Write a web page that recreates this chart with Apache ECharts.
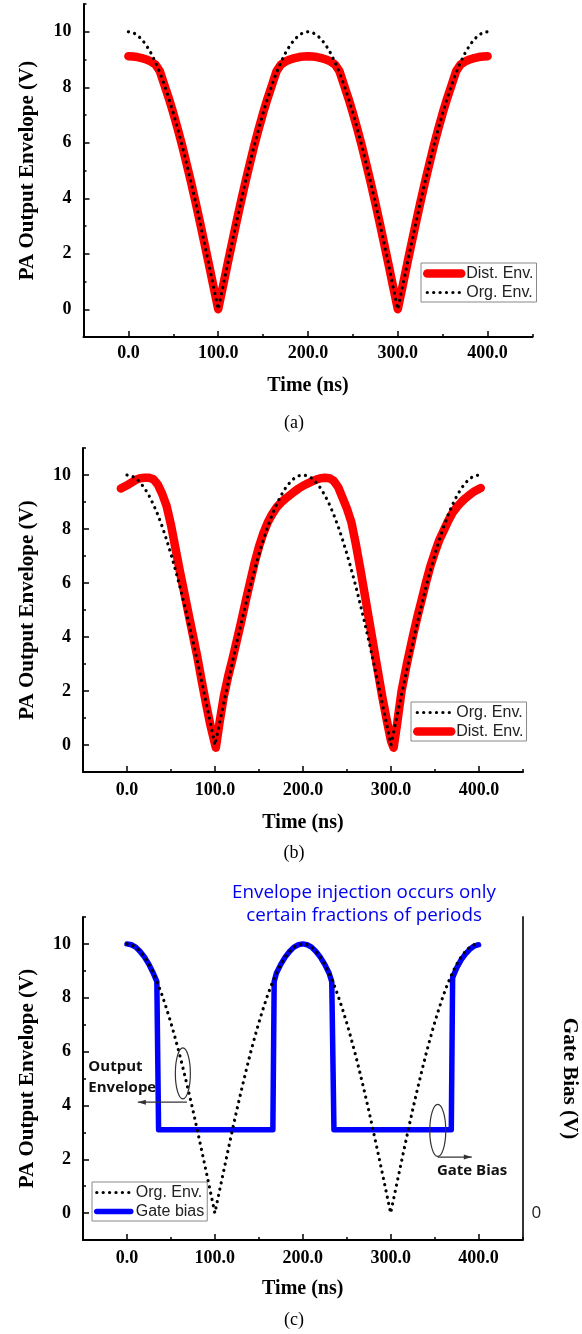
<!DOCTYPE html>
<html>
<head>
<meta charset="utf-8">
<script src="https://cdn.jsdelivr.net/npm/echarts@6/dist/echarts.min.js"></script>
<style>html,body{margin:0;padding:0;background:#fff}#c{width:582px;height:1334px}</style>
</head>
<body>
<div id="c"></div>
<script>
// ---------- data ----------
const timeNs = [0,5,10,15,20,25,30,35,40,45,50,55,60,65,70,75,80,85,90,95,100,
  105,110,115,120,125,130,135,140,145,150,155,160,165,170,175,180,185,190,195,200,
  205,210,215,220,225,230,235,240,245,250,255,260,265,270,275,280,285,290,295,300,
  305,310,315,320,325,330,335,340,345,350,355,360,365,370,375,380,385,390,395,400];
const orgEnv = [10.00,9.97,9.88,9.72,9.51,9.24,8.91,8.53,8.09,7.60,7.07,6.49,5.88,5.22,4.54,3.83,3.09,2.33,1.56,0.78,0.00,
  0.78,1.56,2.33,3.09,3.83,4.54,5.22,5.88,6.49,7.07,7.60,8.09,8.53,8.91,9.24,9.51,9.72,9.88,9.97,10.00,
  9.97,9.88,9.72,9.51,9.24,8.91,8.53,8.09,7.60,7.07,6.49,5.88,5.22,4.54,3.83,3.09,2.33,1.56,0.78,0.00,
  0.78,1.56,2.33,3.09,3.83,4.54,5.22,5.88,6.49,7.07,7.60,8.09,8.53,8.91,9.24,9.51,9.72,9.88,9.97,10.00];
const distEnvA = [9.12,9.11,9.09,9.05,9.00,8.93,8.82,8.58,8.09,
  7.60,7.07,6.49,5.88,5.22,4.54,3.83,3.09,2.33,1.56,0.78,0.00,
  0.78,1.56,2.33,3.09,3.83,4.54,5.22,5.88,6.49,7.07,7.60,8.09,
  8.58,8.82,8.93,9.00,9.05,9.09,9.11,9.12,9.11,9.09,9.05,9.00,8.93,8.82,8.58,
  8.09,7.60,7.07,6.49,5.88,5.22,4.54,3.83,3.09,2.33,1.56,0.78,0.00,
  0.78,1.56,2.33,3.09,3.83,4.54,5.22,5.88,6.49,7.07,7.60,8.09,
  8.58,8.82,8.93,9.00,9.05,9.09,9.11,9.12];
const distTimeB = [-7,0,5,10,15,20,25,30,35,40,45,50,55,60,65,70,75,80,85,90,95,101,
  105,110,115,120,125,130,135,140,145,150,155,160,165,170,175,180,185,190,195,200,
  205,210,215,220,225,230,235,240,245,250,255,260,265,270,275,280,285,290,295,300,
  303,307,312,318,325,330,335,340,345,350,355,360,365,370,375,380,385,390,395,402];
const distEnvB = [9.50,9.62,9.72,9.82,9.88,9.90,9.90,9.84,9.65,9.30,8.85,8.15,7.30,6.45,5.65,4.85,4.05,3.25,2.35,1.50,0.70,-0.10,
  0.80,1.80,2.55,3.20,3.90,4.60,5.35,6.05,6.75,7.35,7.85,8.25,8.55,8.80,8.98,9.12,9.25,9.38,9.50,9.60,
  9.68,9.76,9.83,9.88,9.90,9.88,9.78,9.55,9.15,8.75,8.25,7.45,6.55,5.60,4.65,3.70,2.75,1.80,0.95,0.15,
  -0.10,0.80,2.00,3.00,4.05,4.75,5.40,6.05,6.65,7.15,7.60,7.95,8.30,8.60,8.82,9.00,9.15,9.28,9.40,9.52];
const gateTime = [0,5,10,15,20,25,30,34,36,166,167.5,170,175,180,185,190,195,200,205,210,215,220,225,230,233,235.5,369,370.5,375,380,385,390,395,400];
const gateBias = [10.00,9.97,9.88,9.72,9.51,9.24,8.91,8.60,3.10,3.10,8.60,8.91,9.24,9.51,9.72,9.88,9.97,10.00,9.97,9.88,9.72,9.51,9.24,8.91,8.60,3.10,3.10,8.75,9.10,9.40,9.62,9.80,9.92,9.97];
const xTickValues = [0,100,200,300,400];
const yTickValues = [0,2,4,6,8,10];
const rightTickValues = [0];

// ---------- helpers ----------
const zip = (xs, ys) => xs.map((x, i) => [x, ys[i]]);
const SERIF = '"Liberation Serif", "Times New Roman", serif';
const SANS = '"Liberation Sans", Arial, sans-serif';
const OPEN = '"Open Sans", "Noto Sans", sans-serif';
const tickStyle = {color: '#000', width: 1.5};

function xAxes(g, margin, nameGap) {
  return [{
    gridIndex: g, type: 'value', min: -50, max: 450, interval: 50, position: 'bottom',
    axisLine: {show: true, onZero: false, lineStyle: {color: '#000', width: 2}},
    axisTick: {show: true, inside: true, length: 3, lineStyle: tickStyle},
    axisLabel: {margin: margin, fontFamily: SERIF, fontWeight: 'bold', fontSize: 18, color: '#000',
      formatter: v => xTickValues.indexOf(v) >= 0 ? v.toFixed(1) : ''},
    splitLine: {show: false},
    name: 'Time (ns)', nameLocation: 'middle', nameGap: nameGap,
    nameTextStyle: {fontFamily: SERIF, fontWeight: 'bold', fontSize: 20, color: '#000'}
  }, {
    gridIndex: g, type: 'value', min: -50, max: 450, position: 'bottom',
    axisLine: {show: false, onZero: false},
    axisTick: {show: true, inside: true, length: 6, customValues: xTickValues, lineStyle: tickStyle},
    axisLabel: {show: false}, splitLine: {show: false}
  }];
}
function yAxes(g) {
  return [{
    gridIndex: g, type: 'value', min: -1, max: 11, interval: 1, position: 'left',
    axisLine: {show: true, onZero: false, lineStyle: {color: '#000', width: 2}},
    axisTick: {show: true, inside: true, length: 3, lineStyle: tickStyle},
    axisLabel: {margin: 12, fontFamily: SERIF, fontWeight: 'bold', fontSize: 18, color: '#000',
      formatter: v => yTickValues.indexOf(v) >= 0 ? String(v) : ''},
    splitLine: {show: false},
    name: 'PA Output Envelope (V)', nameLocation: 'middle', nameGap: 45, nameRotate: 90,
    nameTextStyle: {fontFamily: SERIF, fontWeight: 'bold', fontSize: 21, color: '#000'}
  }, {
    gridIndex: g, type: 'value', min: -1, max: 11, position: 'left',
    axisLine: {show: false, onZero: false},
    axisTick: {show: true, inside: true, length: 6, customValues: yTickValues, lineStyle: tickStyle},
    axisLabel: {show: false}, splitLine: {show: false}
  }];
}

const dotted = {color: '#000', width: 3.2, type: [0.1, 6.3], cap: 'round', join: 'round'};
const redLine = {color: '#ff0000', width: 8.5, cap: 'round', join: 'round'};
const blueLine = {color: '#0000ff', width: 5.5, cap: 'round', join: 'round'};
const noSymbol = {color: 'rgba(0,0,0,0)', borderWidth: 0, opacity: 0};

function legend(left, top, items) {
  return {
    left: left, top: top, orient: 'vertical', itemWidth: 34, itemHeight: 12, itemGap: 2,
    padding: [2, 3, 1, 2], borderColor: '#888', borderWidth: 1, backgroundColor: '#fff',
    selectedMode: false, z: 10,
    textStyle: {fontFamily: SANS, fontSize: 16, color: '#222', lineHeight: 17},
    data: items
  };
}
const legOrg = {name: 'Org. Env.', lineStyle: dotted, itemStyle: noSymbol};
const legDist = {name: 'Dist. Env.', lineStyle: redLine, itemStyle: noSymbol};
const legGate = {name: 'Gate bias', lineStyle: blueLine, itemStyle: noSymbol};

function line(name, data, xi, yi, style, z) {
  return {type: 'line', name: name, data: data, xAxisIndex: xi, yAxisIndex: yi,
    symbol: 'none', showSymbol: false, lineStyle: style, z: z, silent: true, animation: false};
}

const xa = xAxes(0, 7, 39), xb = xAxes(1, 9, 41), xc = xAxes(2, 9, 39);
const ya = yAxes(0), yb = yAxes(1), yc = yAxes(2);
const yRight = {
  gridIndex: 2, type: 'value', min: -1, max: 11, interval: 1, position: 'right',
  axisLine: {show: true, onZero: false, lineStyle: {color: '#333', width: 2}},
  axisTick: {show: false},
  axisLabel: {margin: 9, fontFamily: OPEN, fontSize: 17, color: '#222',
    formatter: v => rightTickValues.indexOf(v) >= 0 ? String(v) : ''},
  splitLine: {show: false},
  name: 'Gate Bias (V)', nameLocation: 'middle', nameGap: 36, nameRotate: -90,
  nameTextStyle: {fontFamily: SERIF, fontWeight: 'bold', fontSize: 21, color: '#000'}
};

const chart = echarts.init(document.getElementById('c'), null, {renderer: 'canvas'});
chart.setOption({
  animation: false,
  backgroundColor: '#fff',
  grid: [
    {left: 83.5, top: 4, width: 449, height: 333, outerBoundsMode: 'none', containLabel: false},
    {left: 83, top: 448, width: 440, height: 324, outerBoundsMode: 'none', containLabel: false},
    {left: 83, top: 917, width: 439.5, height: 323, outerBoundsMode: 'none', containLabel: false}
  ],
  xAxis: [].concat(xa, xb, xc),
  yAxis: [].concat(ya, yb, yc, [yRight]),
  legend: [
    legend(421, 263, [legDist, legOrg]),
    legend(411, 702, [legOrg, legDist]),
    legend(92, 1182, [legOrg, legGate])
  ],
  series: [
    line('Dist. Env.', zip(timeNs, distEnvA), 0, 0, redLine, 2),
    line('Org. Env.', zip(timeNs, orgEnv), 0, 0, dotted, 3),
    line('Dist. Env.', zip(distTimeB, distEnvB), 2, 2, redLine, 2),
    line('Org. Env.', zip(timeNs, orgEnv), 2, 2, dotted, 3),
    line('Gate bias', zip(gateTime, gateBias), 4, 4, blueLine, 2),
    line('Org. Env.', zip(timeNs, orgEnv), 4, 4, dotted, 3)
  ]
});

// ---------- annotations ----------
const P = (t, v) => chart.convertToPixel({xAxisIndex: 4, yAxisIndex: 4}, [t, v]);
const annColor = '#333';
function arrow(from, to) {
  const a = P(from[0], from[1]), b = P(to[0], to[1]);
  const dir = Math.sign(b[0] - a[0]);
  return [
    {type: 'line', shape: {x1: a[0], y1: a[1], x2: b[0], y2: b[1]}, style: {stroke: annColor, lineWidth: 1.2}, z: 20},
    {type: 'polygon', shape: {points: [[b[0], b[1]], [b[0] - dir * 8, b[1] - 2.5], [b[0] - dir * 8, b[1] + 2.5]]},
      style: {fill: annColor}, z: 20}
  ];
}
function ellipse(t, v, rx, ry) {
  const c = P(t, v);
  return {type: 'ellipse', shape: {cx: c[0], cy: c[1], rx: rx, ry: ry},
    style: {fill: 'none', stroke: annColor, lineWidth: 1.2}, z: 20};
}
function label(t, v, text) {
  const p = P(t, v);
  return {type: 'text', z: 21, style: {x: p[0], y: p[1], text: text, align: 'left', verticalAlign: 'middle',
    font: 'bold 15px ' + OPEN, fill: '#111'}};
}
function caption(x, y, text, font, fill, lh) {
  return {type: 'text', z: 21, style: {x: x, y: y, text: text, align: 'center', verticalAlign: 'middle',
    font: font, fill: fill, lineHeight: lh || 20}};
}
const graphics = [].concat(
  [ellipse(63.6, 5.19, 7.5, 25.5)],
  arrow([68.2, 4.12], [12.4, 4.12]),
  [label(-43.9, 5.43, 'Output'), label(-43.9, 4.65, 'Envelope')],
  [ellipse(353.6, 3.07, 8, 26)],
  arrow([353.6, 2.08], [392.3, 2.08]),
  [label(352.6, 1.56, 'Gate Bias')],
  [caption(364, 904, 'Envelope injection occurs only\ncertain fractions of periods', '18.8px ' + OPEN, '#0000ee', 23)],
  [caption(294, 423, '(a)', '18px ' + SERIF, '#000'),
   caption(294, 853, '(b)', '18px ' + SERIF, '#000'),
   caption(294, 1320, '(c)', '18px ' + SERIF, '#000')]
);
chart.setOption({graphic: graphics});
</script>
</body>
</html>
